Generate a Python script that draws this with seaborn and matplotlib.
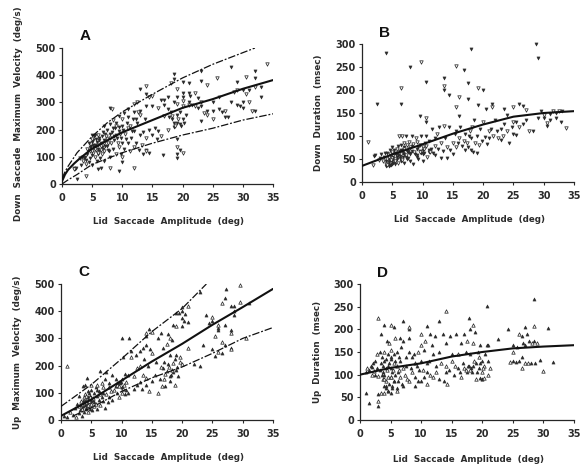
import matplotlib
matplotlib.use("Agg")
import matplotlib.pyplot as plt
import pandas as pd
import seaborn as sns

a_x = [34,32,32,30.5,28,29,25.7,23,23,24,18.5,18.5,18,20,21,19,20,21,22,19,20,20,21.5,22.5,23,23,24,24,25,25,25,26,26,27,27,28,29,30,31,31,29,30,32,33,32,31.5,33,
19,19,19.5,19,20,19,16.7,14,14.5,13.5,12,10,9.5,8,6.5,6,4,2.5,2,2,
2.2,2.4,3,3.2,3.3,3.5,3.6,3.8,4,4,4.2,4.2,4.4,4.5,4.6,4.7,4.8,4.9,5,5,5,5,5,
5.2,5.3,5.3,5.5,5.5,5.6,5.7,5.8,5.8,5.9,6,6,6,6.2,6.3,6.4,6.5,6.6,6.7,6.8,7,7,7,7,
7.3,7.5,7.5,7.7,7.8,8,8,8,8,8.3,8.3,8.5,8.5,8.7,8.8,9,9,9,9.3,9.5,9.5,9.5,9.8,9.8,10,10,10,10,
10.3,10.3,10.5,10.7,11,11,11,11,11.3,11.5,11.7,12,12,12,12,12.3,12.5,12.5,12.7,13,13,13,13,13.3,13.5,13.7,14,14,14,14,14,
14.5,14.5,15,15,15,15.5,15.7,16,16,16.5,16.5,17,17,17,17.5,17.5,17.5,17.8,18,18.3,18.5,18.5,18.7,19,19,19,
19.5,19.5,20,20,20.5,21,21,21.3,22,22.5,23,23.5,26.5,27.5,28.5,29.5,30,30.5]
a_y = [440,415,390,392,430,375,390,415,378,365,405,385,370,375,370,350,335,335,335,320,320,305,290,315,300,285,270,255,300,270,240,320,275,270,245,300,345,345,345,300,290,280,355,320,270,270,355,
165,135,125,110,115,95,105,120,115,110,60,80,48,60,60,55,30,20,60,55,
55,60,95,70,100,85,95,100,75,90,110,130,80,150,120,95,140,165,70,105,125,155,180,
115,135,175,100,145,165,125,85,155,180,110,130,145,170,95,125,150,135,110,190,85,120,160,215,
175,140,200,150,120,100,170,220,280,275,190,130,235,160,205,110,180,225,150,195,250,135,110,170,100,150,215,240,
130,260,185,225,150,205,245,275,120,170,240,135,195,265,295,150,225,300,125,180,255,270,350,145,190,240,170,125,330,360,285,
200,320,180,285,325,205,165,280,195,310,175,310,290,250,320,275,200,245,265,250,225,300,215,255,225,295,
220,265,285,240,255,290,300,325,285,280,230,260,265,245,340,285,300,330]
a_dense_x = [4.3,4.6,4.9,5.1,5.2,5.4,5.5,5.7,5.9,6.1,6.2,6.4,6.6,6.8,6.9,7.1,7.2,7.4,7.6,7.9,8.1,8.4,8.6,8.9,9.1,9.4,9.7,10.2,10.6,11.2,11.6,12.2,12.6,18.2,18.6,19.2,19.7,20.2]
a_dense_y = [125,135,120,145,160,130,180,140,115,160,120,140,175,130,150,140,185,165,125,185,150,205,175,215,170,210,185,200,165,215,195,240,265,240,210,240,215,225]

b_x = [1,2.5,4,6.5,6.5,8,9.7,10.5,9.5,10.5,10.5,13.5,13.5,13.5,14.3,15.5,16.8,17.5,16,17.5,18,19.2,20,19.2,15.5,16,21.5,21.5,20.5,23.5,25,26,26.5,27,28.7,29,33.7,28.3,25.5,
1.8,2,2.2,2.8,3,3.2,3.4,3.6,3.8,3.9,4,4,4.1,4.2,4.3,4.4,4.5,4.5,4.6,4.7,4.8,4.9,5,5,5,5,5.1,5.2,5.3,5.4,5.5,5.5,5.6,5.7,5.8,5.9,6,6,6,6.1,6.2,6.3,6.4,6.5,6.5,6.6,6.7,6.8,7,7,7,7,7.2,7.3,7.5,7.5,7.6,7.8,8,8,8,8.2,8.3,8.5,8.5,8.7,8.9,9,9,9,9.2,9.5,9.5,9.7,9.8,10,10,10,10.2,10.4,10.5,10.7,11,11,11.2,11.5,11.7,12,12,12,12.3,12.5,12.7,13,13,13.3,13.5,13.7,14,14,14.3,14.5,15,15,15.3,15.5,15.5,
15.8,16,16.2,16.5,16.8,17,17,17.3,17.5,17.7,17.8,18,18,18.2,18.3,18.5,18.7,19,19,19.3,19.5,19.8,20,20.3,20.7,21,21,21.3,21.7,22,22.3,22.5,23,23,23.3,23.5,24,24,24.3,24.7,25,25,25.5,26,26.5,27,27.5,29,29.5,30,30,30.5,30.5,31,31,31.5,32,32,32.5,32.8,33]
b_y = [87,170,280,205,170,250,260,218,143,140,130,225,208,200,190,252,243,215,185,180,290,205,200,168,163,143,170,163,158,158,162,170,165,157,300,270,118,110,103,
38,57,58,48,52,60,45,55,62,40,35,45,50,62,40,55,35,48,60,70,38,52,45,55,65,75,42,58,70,40,50,62,48,72,55,65,42,58,78,100,52,68,60,80,45,100,70,55,85,42,60,72,100,55,80,50,65,88,45,62,75,100,68,82,40,60,95,55,72,88,50,68,80,100,62,75,45,60,72,85,100,55,70,90,65,115,62,78,95,58,105,72,120,85,52,68,122,95,52,75,120,70,85,60,105,75,110,
85,95,120,78,90,70,105,85,75,100,110,70,95,120,65,135,85,62,100,80,115,90,130,98,82,110,95,115,100,135,110,95,115,92,100,125,145,110,85,120,130,105,130,120,125,135,110,140,155,145,140,122,128,148,135,155,150,140,155,130,155]
b_dense_x = [4.2,4.4,4.6,4.8,5,5.2,5.4,5.6,5.8,6,6.2,6.4,6.6,6.8,7,7.2,7.4,7.6,7.8,8,8.3,8.6,9,9.3,9.6,10,10.3,10.6,11,11.4]
b_dense_y = [38,44,36,48,40,52,46,60,50,65,56,70,48,62,75,58,68,52,72,60,78,66,58,75,65,70,62,78,66,72]

c_x = [1,10,11.3,14,14,14.5,15,23,20,21,20,19,29.5,27.3,27,26.5,28,28.5,29.5,31,24,25,25,24.5,26,26,26,25.5,27,28,28,28.5,28.5,26.5,27,28,28,23.5,25,26,25.5,26.5,30.5,23,22,16.7,
0.5,1,1.5,2,2.3,2.5,2.7,3,3,3,3.2,3.3,3.5,3.5,3.5,3.7,3.8,3.9,4,4,4,4,4.2,4.2,4.3,4.4,4.5,4.5,4.5,4.6,4.8,4.8,5,5,5,5,5.2,5.3,5.5,5.5,5.7,5.8,6,6,6,6.2,6.3,6.5,6.5,6.7,6.8,7,7,7,7.2,7.3,7.5,7.5,7.7,8,8,8,8.3,8.5,8.5,8.8,9,9,9.2,9.3,9.5,9.5,9.7,10,10,10,10.2,10.3,10.5,10.5,10.7,11,11,
11.5,11.5,12,12,12.3,12.5,12.5,13,13,13,13.3,13.5,13.5,13.7,14,14,14,14.3,14.5,14.7,15,15,15.5,15.7,16,16,16.3,16.5,16.5,16.8,17,17,17.2,17.5,17.5,17.7,17.8,18,18,18,18.2,18.3,18.5,18.5,18.5,18.8,19,19,19,19.3,19.5,19.7,20,20,20,20.3,20.5,21,21]
c_y = [200,300,300,320,310,335,325,470,415,420,400,395,495,480,450,430,420,420,435,430,385,380,365,355,350,340,330,310,350,330,320,385,400,285,275,265,260,275,260,250,235,245,300,200,205,125,
15,10,30,20,45,12,60,25,50,90,35,70,15,45,60,125,30,80,55,75,95,130,40,65,155,85,30,50,105,70,40,90,60,85,110,130,35,75,50,100,120,60,40,90,130,75,105,55,180,85,135,100,70,120,150,45,95,175,65,120,85,135,105,165,75,110,125,150,130,100,140,85,135,120,100,150,230,115,170,95,140,100,165,
230,255,115,160,240,130,190,255,140,200,115,265,165,225,130,155,275,200,105,260,145,245,165,215,100,300,150,195,320,265,150,215,125,280,180,315,195,145,240,300,165,295,210,175,350,130,185,240,345,160,395,215,375,345,205,365,390,265,360]
c_dense_x = [3.2,3.4,3.6,3.7,3.8,4,4.1,4.2,4.3,4.4,4.5,4.6,4.7,4.8,5,5.1,5.3,5.5,6,6.5,9,9.3,9.6,9.9,10.1,10.4,10.8,16.8,17.2,17.6,18,18.4,18.8,19.2,19.6]
c_dense_y = [55,40,70,50,85,65,45,90,60,75,55,100,65,85,70,50,80,65,110,95,125,135,125,140,120,130,110,190,170,205,160,185,225,195,230]

d_x = [3,1,1.5,3,3,7,8,8,4,5,5.5,3.5,14,13,11,10,20.7,17.8,18.5,28.5,27,28.5,30.8,29.5,30,31.5,
1,1.2,1.5,1.8,2,2,2.2,2.3,2.5,2.5,2.7,2.8,3,3,3.2,3.3,3.5,3.5,3.6,3.7,3.8,3.9,4,4,4,4,4.2,4.2,4.3,4.4,4.5,4.5,4.5,4.6,4.7,4.8,5,5,5,5,5,5.2,5.3,5.5,5.5,5.5,5.7,5.8,6,6,6,6.2,6.3,6.5,6.5,6.5,6.7,6.8,7,7,7,7.3,7.5,7.5,7.7,8,8,8,8.3,8.5,8.5,8.8,9,9,9,9.3,9.5,9.5,9.7,10,10,10,10.3,10.5,10.5,10.7,11,11,11,11.3,11.5,11.5,11.8,12,12,12.3,12.5,12.5,13,13,13.3,13.5,13.7,14,14,14,14.3,14.5,14.7,15,15,15.3,15.5,15.7,16,16,16.3,16.5,16.5,16.8,17,17,17.3,17.5,17.5,17.8,18,18,18,18.3,18.5,18.5,18.8,19,19,19.3,19.5,19.5,19.7,20,20,20,20.3,20.5,20.7,21,21,21,21.3,
22.5,24.2,24.5,25,25,25,25.5,25.7,26,26,26.5,26.5,26.5,26.7,27,27,27.3,27.5,27.7,28,28.2,28.5,28.7,29]
d_y = [225,60,38,42,30,218,205,200,210,210,205,190,240,218,208,190,252,225,210,267,205,207,202,133,108,128,
105,115,110,120,100,118,125,108,100,130,145,115,58,98,150,110,60,125,140,90,105,130,60,75,100,150,70,115,85,175,65,95,120,145,170,80,60,95,115,135,155,75,105,125,85,145,180,100,70,120,150,85,110,180,130,95,160,80,115,175,75,100,140,120,90,150,180,85,115,140,105,145,75,125,95,120,150,85,110,165,130,85,110,155,95,175,125,105,80,130,190,100,165,145,95,185,120,105,150,90,125,190,85,120,105,170,80,110,185,130,145,100,120,190,115,145,105,170,95,125,190,115,150,105,175,120,200,110,145,105,170,120,195,90,125,150,140,115,165,105,130,90,120,145,165,100,130,165,115,
178,200,128,165,130,150,128,160,190,130,185,115,140,170,125,165,190,125,175,125,170,175,125,170]
d_dense_x = [3.6,3.8,4,4.2,4.3,4.4,4.6,4.8,5,5.1,5.3,5.4,5.6,5.8,6,6.2,6.4,17.4,17.7,18.2,18.6,19.1,19.6,20.1,19.7,19.9,20.2]
d_dense_y = [100,120,90,135,75,110,65,125,95,140,70,110,85,130,65,105,140,110,120,115,130,105,125,115,92,90,92]

a_mean_x = [0, 0.5, 1, 2, 3, 5, 7.5, 10, 15, 20, 25, 30, 35]
a_mean_y = [10, 35, 52, 75, 95, 130, 160, 190, 235, 280, 312, 350, 382]
a_up_x = [0, 0.5, 1, 2.5, 5, 7.5, 10, 15, 20, 25, 32]
a_up_y = [20, 45, 65, 115, 175, 225, 265, 330, 390, 440, 500]
a_lo_x = [0, 1, 2.5, 5, 10, 15, 20, 25, 30, 35]
a_lo_y = [0, 15, 35, 72, 115, 150, 180, 205, 235, 258]
b_mean_x = [0, 5, 10, 15, 20, 25, 30, 35]
b_mean_y = [35, 60, 82, 105, 125, 142, 150, 154]
c_mean_x = [0, 5, 10, 15, 20, 25, 30, 35]
c_mean_y = [15, 75, 145, 215, 280, 350, 415, 482]
c_up_x = [0, 5, 10, 15, 20, 24]
c_up_y = [50, 130, 225, 325, 410, 500]
c_lo_x = [2, 5, 10, 15, 20, 25, 30, 35]
c_lo_y = [15, 45, 105, 155, 195, 245, 300, 340]
d_mean_x = [0, 5, 10, 15, 20, 25, 30, 35]
d_mean_y = [100, 115, 125, 140, 150, 158, 162, 165]

x_ticks = [0, 5, 10, 15, 20, 25, 30, 35]
v_ticks = [0, 100, 200, 300, 400, 500]
d_ticks = [0, 50, 100, 150, 200, 250, 300]
x_title = "Lid  Saccade  Amplitude  (deg)"
y_titles = ["Down  Saccade  Maximum  Velocity  (deg/s)", "Down  Duration  (msec)",
            "Up  Maximum  Velocity  (deg/s)", "Up  Duration  (msec)"]
letters = ["A", "B", "C", "D"]

sns.set_theme(style="ticks", rc={"axes.linewidth": 0.9})
plt.rcParams["font.family"] = ["DejaVu Sans"]
INK = "#2b2b2b"
W, H = 585, 465
fig = plt.figure(figsize=(W / 100, H / 100), dpi=100, facecolor="white")

def make_axes(l, r, t, b):
    return fig.add_axes([l / W, 1 - b / H, (r - l) / W, (b - t) / H])

def panel(box, xs, ys, marker, yticks, ymax, ytitle, letter, lpos, xl_y, yl_x, curves):
    ax = make_axes(*box)
    df = pd.DataFrame({"x": xs, "y": ys})
    df["open"] = [i % 3 == 0 for i in range(len(df))]
    sns.scatterplot(data=df[~df["open"]], x="x", y="y", marker=marker, s=5, color=INK,
                    edgecolor=INK, linewidth=0.4, ax=ax, clip_on=False, zorder=2)
    sns.scatterplot(data=df[df["open"]], x="x", y="y", marker=marker, s=6, facecolor="white",
                    edgecolor=INK, linewidth=0.55, ax=ax, clip_on=False, zorder=2)
    for cx, cy, ls, lw in curves:
        sns.lineplot(x=cx, y=cy, ax=ax, color="#111111", linestyle=ls, linewidth=lw,
                     errorbar=None, sort=False, zorder=3)
    ax.set_xlim(0, 35)
    ax.set_ylim(0, ymax)
    ax.set_xticks(x_ticks)
    ax.set_yticks(yticks)
    ax.tick_params(axis="y", length=2, width=0.8, pad=2.5, labelsize=7, colors=INK)
    ax.tick_params(axis="x", length=2, width=0.8, pad=4.5, labelsize=7, colors=INK)
    for lab in ax.get_xticklabels() + ax.get_yticklabels():
        lab.set_fontweight("bold")
    ax.set_xlabel("")
    ax.set_ylabel("")
    sns.despine(ax=ax)
    fig.text(((box[0] + box[1]) / 2 + 1.5) / W, 1 - xl_y / H, x_title, ha="center", va="center",
             fontsize=6.3, fontweight="bold", color=INK)
    fig.text(yl_x / W, 1 - ((box[2] + box[3]) / 2 + ytitle[1]) / H, ytitle[0], rotation=90,
             ha="center", va="center", fontsize=6.3, fontweight="bold", color=INK)
    fig.text(lpos[0] / W, 1 - lpos[1] / H, letter, ha="center", va="center",
             family="Liberation Sans", fontsize=11, fontweight="bold", color="#111111")

dash = (0, (6, 1.5, 1.5, 1.5))
panel((62, 273, 48, 184), a_x + a_dense_x, a_y + a_dense_y, "v", v_ticks, 500, (y_titles[0], -2), letters[0], (85, 36), 221, 19,
      [(a_mean_x, a_mean_y, "-", 1.5), (a_up_x, a_up_y, dash, 0.9), (a_lo_x, a_lo_y, dash, 0.9)])
panel((362, 574, 44, 182), b_x + b_dense_x, b_y + b_dense_y, "v", d_ticks, 300, (y_titles[1], 0), letters[1], (384, 33), 219, 319,
      [(b_mean_x, b_mean_y, "-", 1.5)])
panel((61, 273, 284, 420), c_x + c_dense_x, c_y + c_dense_y, "^", v_ticks, 500, (y_titles[2], 0), letters[2], (84, 272), 457, 18,
      [(c_mean_x, c_mean_y, "-", 1.5), (c_up_x, c_up_y, dash, 0.9), (c_lo_x, c_lo_y, dash, 0.9)])
panel((360, 574, 284, 420), d_x + d_dense_x, d_y + d_dense_y, "^", d_ticks, 300, (y_titles[3], 0), letters[3], (382, 273), 459, 317,
      [(d_mean_x, d_mean_y, "-", 1.5)])

fig.savefig("out.png", dpi=100, facecolor="white")
